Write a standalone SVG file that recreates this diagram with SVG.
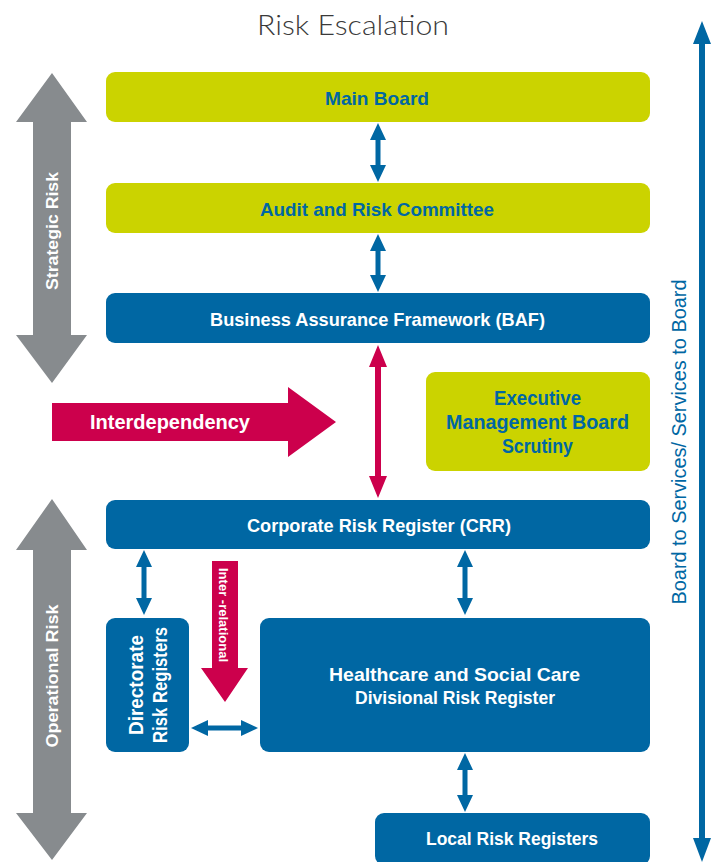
<svg xmlns="http://www.w3.org/2000/svg" width="718" height="862" viewBox="0 0 718 862">
<style>
.olive{fill:#cbd300}
.blue{fill:#0067a3}
.crim{fill:#cc004c}
.gray{fill:#878b8e}
text{font-family:"Liberation Sans",Arial,sans-serif;font-weight:bold;text-anchor:middle;dominant-baseline:central}
.tb{fill:#0067a3;font-size:18.5px}
.tw{fill:#ffffff;font-size:18.5px}
.title{font-family:Lato,"Liberation Sans",sans-serif;font-weight:300;fill:#3a3a3a;font-size:28px}
.side{font-weight:normal;fill:#0067a3;font-size:20px}
</style>
<rect width="718" height="862" fill="#ffffff"/>
<text class="title" x="353" y="24" textLength="192" lengthAdjust="spacingAndGlyphs">Risk Escalation</text>

<g id="connectors">
  <polygon class="gray" points="52,73 87,122 71,122 71,335 87,335 52,383 16,335 33,335 33,122 16,122"/>
  <polygon class="gray" points="52,499 87,550 71,550 71,813 87,813 52,860 16,813 33,813 33,550 16,550"/>
  <polygon class="blue" points="702,21 711,44 705,44 705,838 711,838 702,862 693,838 699,838 699,44 693,44"/>
  <polygon class="crim" points="52,403 288,403 288,387 336,422 288,457 288,441 52,441"/>
  <polygon class="crim" points="378,345 387,367 381,367 381,476 387,476 378,498 369,476 375,476 375,367 369,367"/>
  <polygon class="crim" points="212,561 238,561 238,668 248,668 225,702 201,668 212,668"/>
  <polygon class="blue" points="378,123 386,140 380.5,140 380.5,165 386,165 378,182 370,165 375.5,165 375.5,140 370,140"/>
  <polygon class="blue" points="378,234 386,251 380.5,251 380.5,275 386,275 378,292 370,275 375.5,275 375.5,251 370,251"/>
  <polygon class="blue" points="144,550 152,567 146.5,567 146.5,598 152,598 144,615 136,598 141.5,598 141.5,567 136,567"/>
  <polygon class="blue" points="465,550 473,567 467.5,567 467.5,598 473,598 465,615 457,598 462.5,598 462.5,567 457,567"/>
  <polygon class="blue" points="465,753 473,770 467.5,770 467.5,795 473,795 465,812 457,795 462.5,795 462.5,770 457,770"/>
  <polygon class="blue" points="191,728 208,720 208,725.5 241,725.5 241,720 258,728 241,736 241,730.5 208,730.5 208,736"/>
</g>

<text class="tw" transform="translate(52,231) rotate(-90)" style="font-size:17px" textLength="118" lengthAdjust="spacingAndGlyphs">Strategic Risk</text>
<text class="tw" transform="translate(52,676) rotate(-90)" style="font-size:17px" textLength="143" lengthAdjust="spacingAndGlyphs">Operational Risk</text>
<text class="tw" x="170" y="422" style="font-size:20px" textLength="160" lengthAdjust="spacingAndGlyphs">Interdependency</text>
<text class="tw" transform="translate(223,615) rotate(90)" style="font-size:12px" textLength="94" lengthAdjust="spacingAndGlyphs">Inter -relational</text>
<text class="side" transform="translate(679,442) rotate(-90)" textLength="325" lengthAdjust="spacingAndGlyphs">Board to Services/ Services to Board</text>

<g id="main-board">
  <rect class="olive" x="106" y="72" width="544" height="50" rx="9"/>
  <text class="tb" x="377" y="98" textLength="104" lengthAdjust="spacingAndGlyphs">Main Board</text>
</g>
<g id="audit">
  <rect class="olive" x="106" y="183" width="544" height="50" rx="9"/>
  <text class="tb" x="377" y="209" textLength="234" lengthAdjust="spacingAndGlyphs">Audit and Risk Committee</text>
</g>
<g id="baf">
  <rect class="blue" x="106" y="293" width="544" height="50" rx="9"/>
  <text class="tw" x="377.5" y="319" textLength="335" lengthAdjust="spacingAndGlyphs">Business Assurance Framework (BAF)</text>
</g>
<g id="emb">
  <rect class="olive" x="426" y="372" width="224" height="99" rx="9"/>
  <text class="tb" x="537.5" y="398" style="font-size:19.5px" textLength="87" lengthAdjust="spacingAndGlyphs">Executive</text>
  <text class="tb" x="537.5" y="422" style="font-size:19.5px" textLength="183" lengthAdjust="spacingAndGlyphs">Management Board</text>
  <text class="tb" x="537.5" y="446" style="font-size:19.5px" textLength="71" lengthAdjust="spacingAndGlyphs">Scrutiny</text>
</g>
<g id="crr">
  <rect class="blue" x="106" y="500" width="544" height="49" rx="9"/>
  <text class="tw" x="379" y="525" textLength="264" lengthAdjust="spacingAndGlyphs">Corporate Risk Register (CRR)</text>
</g>
<g id="directorate">
  <rect class="blue" x="106" y="618" width="83" height="134" rx="9"/>
  <text class="tw" transform="translate(136,685) rotate(-90)" style="font-size:19.5px" textLength="100" lengthAdjust="spacingAndGlyphs">Directorate</text>
  <text class="tw" transform="translate(160,685) rotate(-90)" style="font-size:19.5px" textLength="116" lengthAdjust="spacingAndGlyphs">Risk Registers</text>
</g>
<g id="healthcare">
  <rect class="blue" x="260" y="618" width="390" height="134" rx="9"/>
  <text class="tw" x="454.5" y="674" textLength="251" lengthAdjust="spacingAndGlyphs">Healthcare and Social Care</text>
  <text class="tw" x="455" y="697" textLength="200" lengthAdjust="spacingAndGlyphs">Divisional Risk Register</text>
</g>
<g id="local">
  <rect class="blue" x="375" y="813" width="275" height="52" rx="9"/>
  <text class="tw" x="512" y="838" textLength="172" lengthAdjust="spacingAndGlyphs">Local Risk Registers</text>
</g>
</svg>
